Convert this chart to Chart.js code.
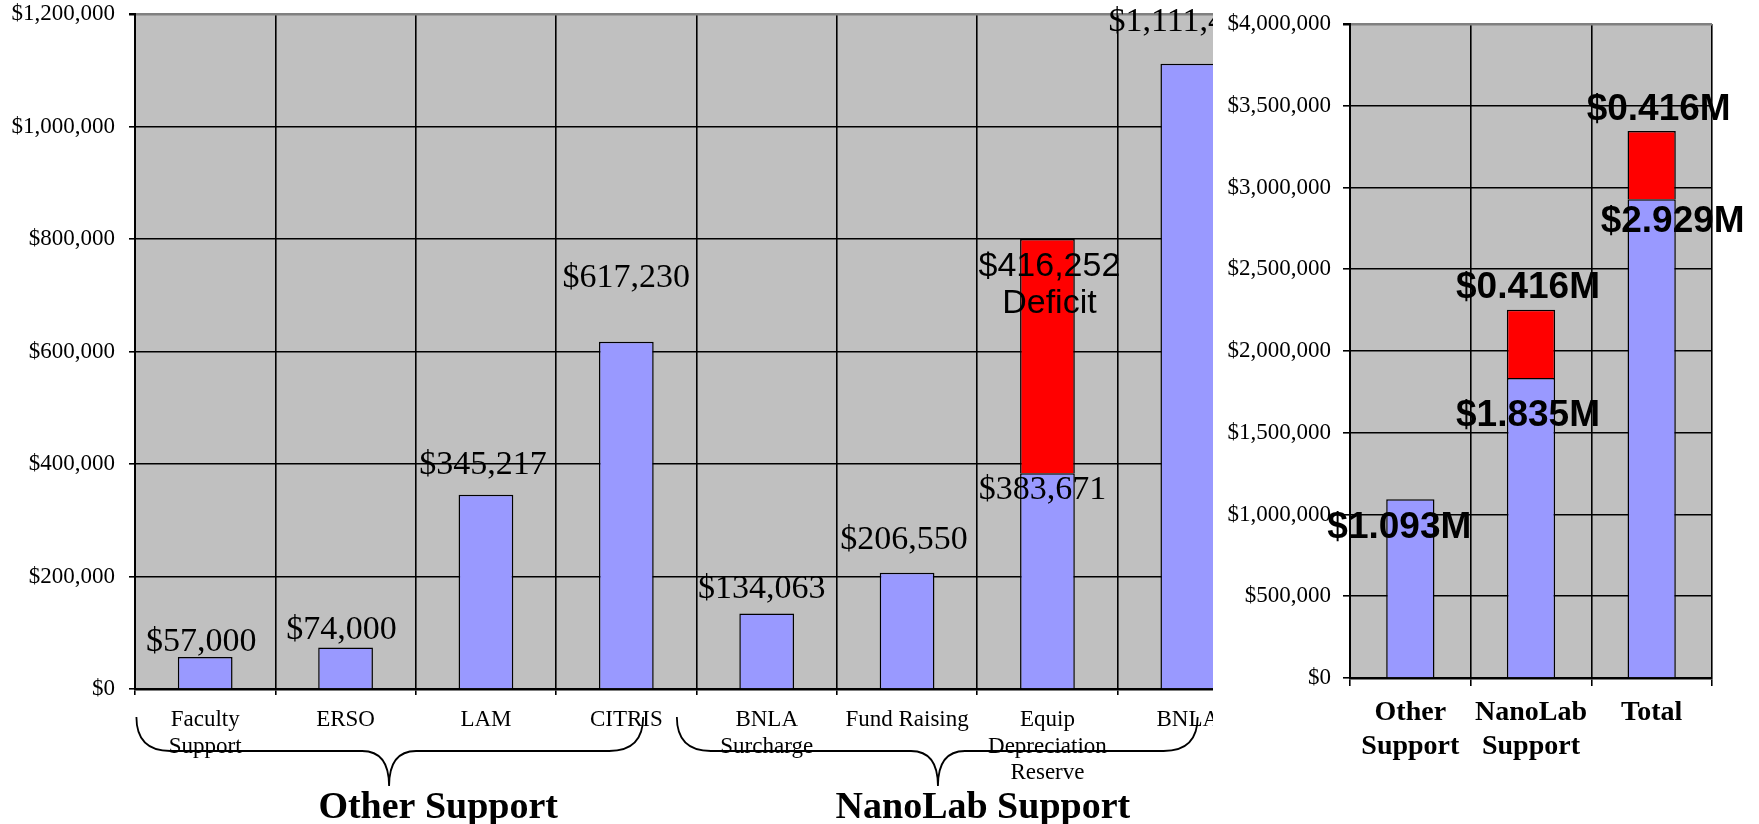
<!DOCTYPE html>
<html>
<head>
<meta charset="utf-8">
<title>NanoLab support</title>
<script src="https://cdn.jsdelivr.net/npm/chart.js@4.4.0/dist/chart.umd.min.js"></script>
<style>
    body { margin: 0; background: #fff; width: 1759px; height: 824px; overflow: hidden; position: relative; }
    #detailBox { position: absolute; left: 0; top: 0; width: 1300px; height: 824px; }
    #summaryBox { position: absolute; left: 1213px; top: 0; width: 546px; height: 824px; background: #fff; }
</style>
</head>
<body>
<div id="detailBox"><canvas id="detailChart"></canvas></div>
<div id="summaryBox"><canvas id="summaryChart"></canvas></div>
<script>
// Funding sources, one bar each
const sourceLabels = [['Faculty', 'Support'], 'ERSO', 'LAM', 'CITRIS', ['BNLA', 'Surcharge'], 'Fund Raising', ['Equip', 'Depreciation', 'Reserve'], 'BNLA'];
const sourceFunded = [57000, 74000, 345217, 617230, 134063, 206550, 383671, 1111400];
const sourceDeficit = [null, null, null, null, null, null, 416252, null];
const sourceTicks = [0, 200000, 400000, 600000, 800000, 1000000, 1200000];

// Totals per group
const totalLabels = [['Other', 'Support'], ['NanoLab', 'Support'], 'Total'];
const totalFunded = [1093447, 1835400, 2928847];
const totalDeficit = [null, 416252, 416252];
const totalTicks = [0, 500000, 1000000, 1500000, 2000000, 2500000, 3000000, 3500000, 4000000];

const SERIF = "'Liberation Serif', 'Times New Roman', serif";
const SANS = "'Liberation Sans', Arial, sans-serif";
const BLUE = '#9999FF';
const RED = '#FF0000';
const PLOT_BG = '#C0C0C0';

const dollars = v => '$' + v.toLocaleString('en-US');
const millions = v => '$' + (v / 1e6).toFixed(3) + 'M';

// gray plot background behind the grid
const plotBackground = {
    id: 'plotBackground',
    beforeDraw(chart) {
        const a = chart.chartArea;
        chart.ctx.save();
        chart.ctx.fillStyle = PLOT_BG;
        chart.ctx.fillRect(a.left, a.top, a.right - a.left, a.bottom - a.top);
        chart.ctx.restore();
    }
};

// text next to bars; spec = {ds, i, dx, dy, text(value)}
function barLabels(specs, font) {
    return {
        id: 'barLabels',
        afterDatasetsDraw(chart) {
            const ctx = chart.ctx;
            ctx.save();
            ctx.fillStyle = '#000';
            ctx.textAlign = 'center';
            ctx.textBaseline = 'middle';
            specs.forEach(s => {
                const bar = chart.getDatasetMeta(s.ds).data[s.i];
                const value = chart.data.datasets[s.ds].data[s.i];
                const lines = [].concat(s.text(value));
                ctx.font = s.font || font;
                lines.forEach((line, k) => {
                    ctx.fillText(line, bar.x + s.dx, bar.y + s.dy + k * (s.lineGap || 0));
                });
            });
            ctx.restore();
        }
    };
}

// curly braces and group names under the category axis
const groupBraces = [
    { title: 'Other Support', from: -0.49, to: 3.12, tip: 1.31, titleAt: 1.66 },
    { title: 'NanoLab Support', from: 3.36, to: 7.07, tip: 5.22, titleAt: 5.54 }
];

const bracePlugin = {
    id: 'braces',
    afterDraw(chart) {
        const ctx = chart.ctx;
        const xs = chart.scales.x;
        const y0 = 717, ym = 751, yt = 786;
        ctx.save();
        ctx.strokeStyle = '#000';
        ctx.lineWidth = 1.8;
        groupBraces.forEach(g => {
            const x0 = xs.getPixelForValue(g.from);
            const x1 = xs.getPixelForValue(g.to);
            const xt = xs.getPixelForValue(g.tip);
            ctx.beginPath();
            ctx.moveTo(x0, y0);
            ctx.quadraticCurveTo(x0, ym, x0 + 34, ym);
            ctx.lineTo(xt - 27, ym);
            ctx.quadraticCurveTo(xt, ym, xt, yt);
            ctx.moveTo(xt, yt);
            ctx.quadraticCurveTo(xt, ym, xt + 27, ym);
            ctx.lineTo(x1 - 34, ym);
            ctx.quadraticCurveTo(x1, ym, x1, y0);
            ctx.stroke();

            ctx.fillStyle = '#000';
            ctx.font = 'bold 38px ' + SERIF;
            ctx.textAlign = 'center';
            ctx.textBaseline = 'alphabetic';
            ctx.fillText(g.title, xs.getPixelForValue(g.titleAt), 818);
        });
        ctx.restore();
    }
};

function fixedTicks(list) {
    return scale => { scale.ticks = list.map(v => ({ value: v })); };
}

// value axis with a fixed width and no extra room for its end labels
function valueAxisWidth(w) {
    return scale => {
        scale.width = w;
        scale.paddingTop = 0;
        scale.paddingBottom = 0;
    };
}

// Detail chart: each funding source
const detailChart = new Chart(document.getElementById('detailChart'), {
    type: 'bar',
    data: {
        labels: sourceLabels,
        datasets: [
            { data: sourceFunded, backgroundColor: BLUE, borderColor: '#000', borderWidth: 1.5 },
            { data: sourceDeficit, backgroundColor: RED, borderColor: '#000', borderWidth: 1.5 }
        ]
    },
    options: {
        responsive: true,
        maintainAspectRatio: false,
        animation: false,
        layout: { padding: { top: 14, right: 42, left: 0, bottom: 0 } },
        datasets: { bar: { barPercentage: 0.39, categoryPercentage: 1.0 } },
        plugins: { legend: { display: false }, tooltip: { enabled: false } },
        scales: {
            x: {
                stacked: true,
                offset: true,
                grid: { offset: true, color: '#000', tickColor: '#000', lineWidth: 1.6, tickLength: 6 },
                border: { color: '#000', width: 2.5 },
                ticks: {
                    color: '#000',
                    font: { family: SERIF, size: 23, lineHeight: 1.15 },
                    padding: 12,
                    maxRotation: 0,
                    autoSkip: false
                },
                afterFit: s => { s.height = 135; }
            },
            y: {
                stacked: true,
                min: 0,
                max: 1200000,
                afterBuildTicks: fixedTicks(sourceTicks),
                grid: {
                    color: c => (c.tick && c.tick.value === 1200000) ? '#808080' : '#000',
                    lineWidth: c => (c.tick && c.tick.value === 1200000) ? 2.5 : 1.6,
                    tickColor: '#000',
                    tickLength: 6
                },
                border: { color: '#000', width: 2 },
                ticks: {
                    color: '#000',
                    font: { family: SERIF, size: 23 },
                    padding: 14,
                    callback: v => dollars(v)
                },
                afterFit: valueAxisWidth(135)
            }
        }
    },
    plugins: [
        plotBackground,
        barLabels([
            { ds: 0, i: 0, dx: -4, dy: -15, text: dollars },
            { ds: 0, i: 1, dx: -4, dy: -17, text: dollars },
            { ds: 0, i: 2, dx: -3, dy: -30, text: dollars },
            { ds: 0, i: 3, dx: 0, dy: -64, text: dollars },
            { ds: 0, i: 4, dx: -5, dy: -25, text: dollars },
            { ds: 0, i: 5, dx: -3, dy: -33, text: dollars },
            { ds: 0, i: 6, dx: -5, dy: 17, text: dollars },
            { ds: 0, i: 7, dx: -4, dy: -42, text: dollars },
            { ds: 1, i: 6, dx: 2, dy: 28, lineGap: 37, font: '34px ' + SANS, text: v => [dollars(v), 'Deficit'] }
        ], '34px ' + SERIF),
        bracePlugin
    ]
});

// Summary chart: group totals
const summaryChart = new Chart(document.getElementById('summaryChart'), {
    type: 'bar',
    data: {
        labels: totalLabels,
        datasets: [
            { data: totalFunded, backgroundColor: BLUE, borderColor: '#000', borderWidth: 1.5 },
            { data: totalDeficit, backgroundColor: RED, borderColor: '#000', borderWidth: 1.5 }
        ]
    },
    options: {
        responsive: true,
        maintainAspectRatio: false,
        animation: false,
        layout: { padding: { top: 24, right: 47, left: 0, bottom: 0 } },
        datasets: { bar: { barPercentage: 0.4, categoryPercentage: 1.0 } },
        plugins: { legend: { display: false }, tooltip: { enabled: false } },
        scales: {
            x: {
                stacked: true,
                offset: true,
                grid: {
                    offset: true,
                    color: c => c.index === totalLabels.length ? '#808080' : '#000',
                    lineWidth: c => c.index === totalLabels.length ? 2.5 : 1.6,
                    tickColor: '#000',
                    tickLength: 8
                },
                border: { color: '#000', width: 2.5 },
                ticks: {
                    color: '#000',
                    font: { family: SERIF, size: 28, weight: 'bold', lineHeight: 1.2 },
                    padding: 10,
                    maxRotation: 0,
                    autoSkip: false
                },
                afterFit: s => { s.height = 146; }
            },
            y: {
                stacked: true,
                min: 0,
                max: 4000000,
                afterBuildTicks: fixedTicks(totalTicks),
                grid: {
                    color: c => (c.tick && c.tick.value === 4000000) ? '#808080' : '#000',
                    lineWidth: c => (c.tick && c.tick.value === 4000000) ? 2.5 : 1.6,
                    tickColor: '#000',
                    tickLength: 7
                },
                border: { color: '#000', width: 2 },
                ticks: {
                    color: '#000',
                    font: { family: SERIF, size: 23 },
                    padding: 12,
                    callback: v => dollars(v)
                },
                afterFit: valueAxisWidth(137)
            }
        }
    },
    plugins: [
        plotBackground,
        barLabels([
            { ds: 0, i: 0, dx: -11, dy: 29, text: millions },
            { ds: 0, i: 1, dx: -3, dy: 38, text: millions },
            { ds: 0, i: 2, dx: 21, dy: 23, text: millions },
            { ds: 1, i: 1, dx: -3, dy: -22, text: millions },
            { ds: 1, i: 2, dx: 7, dy: -21, text: millions }
        ], 'bold 37px ' + SANS)
    ]
});
</script>
</body>
</html>
